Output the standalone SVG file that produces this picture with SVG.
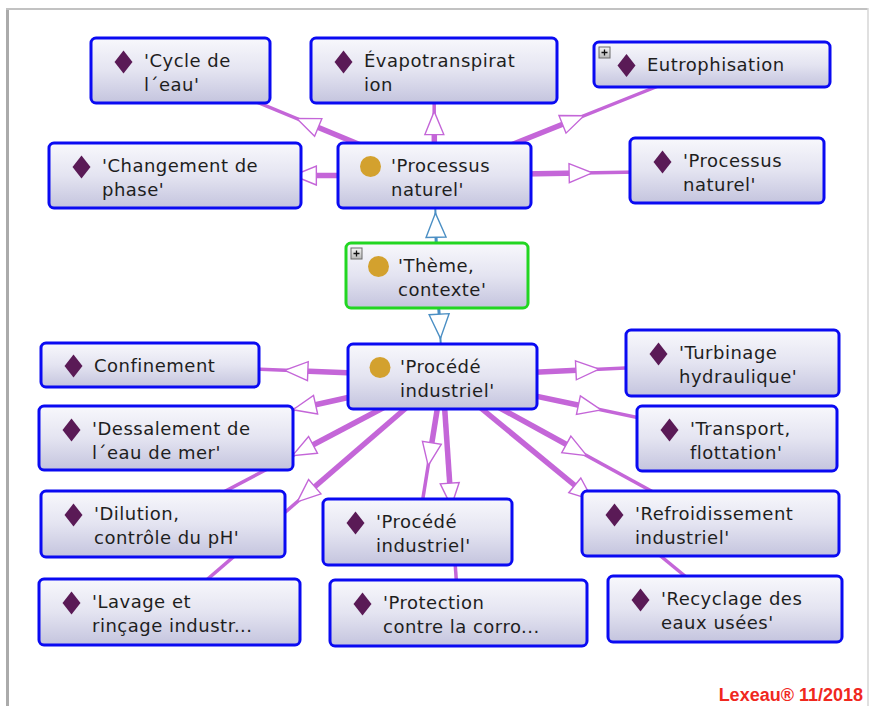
<svg xmlns="http://www.w3.org/2000/svg" width="870" height="706" viewBox="0 0 870 706">
<defs>
<linearGradient id="g" x1="0" y1="0" x2="0" y2="1">
<stop offset="0" stop-color="#f8f8fc"/>
<stop offset="0.5" stop-color="#e4e4f1"/>
<stop offset="1" stop-color="#c4c4de"/>
</linearGradient>
<linearGradient id="pg" x1="0" y1="0" x2="0" y2="1">
<stop offset="0" stop-color="#f4f4f4"/>
<stop offset="1" stop-color="#b8b8b8"/>
</linearGradient>
<marker id="ap" markerUnits="userSpaceOnUse" markerWidth="30" markerHeight="26" refX="12.4" refY="10.5" orient="auto" overflow="visible">
<path d="M0.8,1 L24,10.5 L0.8,20 Z" fill="#fff" stroke="#c466d8" stroke-width="1.4" stroke-linejoin="miter"/>
</marker>
<marker id="ab" markerUnits="userSpaceOnUse" markerWidth="30" markerHeight="26" refX="12.6" refY="10.5" orient="auto" overflow="visible">
<path d="M0.8,0.5 L25,10.5 L0.8,20.5 Z" fill="#fff" stroke="#4b8fc4" stroke-width="1.4"/>
</marker>
<path id="dia" d="M0,-11.5 L9,0 L0,11.5 L-9,0 Z" fill="#5a1a56"/>
<g id="plus">
<rect x="0" y="0" width="11" height="11" fill="url(#pg)" stroke="#6a6a6a" stroke-width="1"/>
<path d="M2.5,5.5 H8.5 M5.5,2.5 V8.5" stroke="#111" stroke-width="1.3"/>
</g>
</defs>
<style>
.n rect.b{fill:url(#g);stroke:#0a0af2;stroke-width:3}
.n rect.gr{fill:url(#g);stroke:#22d622;stroke-width:3}
.t{font-family:"DejaVu Sans",Verdana,sans-serif;font-size:18px;letter-spacing:0.5px;fill:#1e1e1e}
.c{fill:#d3a12e}
.e1{stroke:#c466d8;stroke-width:3.5;fill:none}
.e2{stroke:#c466d8;stroke-width:5.5;fill:none;marker-end:url(#ap)}
.b1{stroke:#4b8fc4;stroke-width:2;fill:none}
.b2{stroke:#4b8fc4;stroke-width:3;fill:none;marker-end:url(#ab)}
</style>
<rect x="0" y="0" width="870" height="706" fill="#fff"/>
<path d="M7.5,706 V9" stroke="#ababab" stroke-width="3"/>
<path d="M6,9 H868" stroke="#c2c2c2" stroke-width="2"/>
<path d="M868,8 V706" stroke="#d6d6d6" stroke-width="1.5"/>

<g id="connectors">
<path class="e1" d="M434.5,175.5 L180.5,70.5"/>
<path class="e2" d="M434.5,175.5 L307.5,123"/>
<path class="e1" d="M434.5,175.5 L434,70.5"/>
<path class="e2" d="M434.5,175.5 L434.25,123"/>
<path class="e1" d="M434.5,175.5 L712,64.5"/>
<path class="e2" d="M434.5,175.5 L573.25,120"/>
<path class="e1" d="M434.5,175.5 L175,175.5"/>
<path class="e2" d="M434.5,175.5 L304.75,175.5"/>
<path class="e1" d="M434.5,175.5 L727,170.5"/>
<path class="e2" d="M434.5,175.5 L580.75,173"/>

<path class="b1" d="M437,275.5 L434.5,175.5"/>
<path class="b2" d="M437,275.5 L435.75,225.5"/>
<path class="b1" d="M437,275.5 L442.5,376.5"/>
<path class="b2" d="M437,275.5 L439.75,326"/>

<path class="e1" d="M442.5,376.5 L150,365"/>
<path class="e2" d="M442.5,376.5 L296.25,370.75"/>
<path class="e1" d="M442.5,376.5 L166,438"/>
<path class="e2" d="M442.5,376.5 L304.25,407.25"/>
<path class="e1" d="M442.5,376.5 L163,524"/>
<path class="e2" d="M442.5,376.5 L302.75,450.25"/>
<path class="e1" d="M442.5,376.5 L169.5,612"/>
<path class="e2" d="M442.5,376.5 L306,494.25"/>
<path class="e1" d="M442.5,376.5 L417.5,532"/>
<path class="e2" d="M442.5,376.5 L430,454.25"/>
<path class="e1" d="M442.5,376.5 L458.5,613"/>
<path class="e2" d="M442.5,376.5 L450.5,494.75"/>
<path class="e1" d="M442.5,376.5 L732.5,363"/>
<path class="e2" d="M442.5,376.5 L587.5,369.75"/>
<path class="e1" d="M442.5,376.5 L737,438.5"/>
<path class="e2" d="M442.5,376.5 L589.75,407.5"/>
<path class="e1" d="M442.5,376.5 L710.5,523.5"/>
<path class="e2" d="M442.5,376.5 L576.5,450"/>
<path class="e1" d="M442.5,376.5 L725,609"/>
<path class="e2" d="M442.5,376.5 L583.75,492.75"/>
</g>

<g id="n-cycle" class="n">
<rect class="b" x="91" y="38" width="179" height="65" rx="5"/>
<use href="#dia" x="123.5" y="62"/>
<text class="t" x="144" y="67">'Cycle de</text>
<text class="t" x="144" y="90.5">l´eau'</text>
</g>
<g id="n-evapo" class="n">
<rect class="b" x="311" y="38" width="246" height="65" rx="5"/>
<use href="#dia" x="343.5" y="62"/>
<text class="t" x="364" y="67">Évapotranspirat</text>
<text class="t" x="364" y="90.5">ion</text>
</g>
<g id="n-eutro" class="n">
<rect class="b" x="594" y="42" width="236" height="45" rx="5"/>
<use href="#plus" x="599" y="47"/>
<use href="#dia" x="626.5" y="65.5"/>
<text class="t" x="647" y="71">Eutrophisation</text>
</g>
<g id="n-chgt" class="n">
<rect class="b" x="49" y="143" width="252" height="65" rx="5"/>
<use href="#dia" x="81.5" y="167"/>
<text class="t" x="102" y="172">'Changement de</text>
<text class="t" x="102" y="195.5">phase'</text>
</g>
<g id="n-pn" class="n">
<rect class="b" x="338" y="143" width="193" height="65" rx="5"/>
<circle class="c" cx="370.5" cy="166.5" r="10.5"/>
<text class="t" x="391" y="172">'Processus</text>
<text class="t" x="391" y="195.5">naturel'</text>
</g>
<g id="n-pn2" class="n">
<rect class="b" x="630" y="138" width="194" height="65" rx="5"/>
<use href="#dia" x="662.5" y="162"/>
<text class="t" x="683" y="167">'Processus</text>
<text class="t" x="683" y="190.5">naturel'</text>
</g>
<g id="n-theme" class="n">
<rect class="gr" x="346" y="243" width="182" height="65" rx="5"/>
<use href="#plus" x="351" y="248"/>
<circle class="c" cx="378.5" cy="266.5" r="10.5"/>
<text class="t" x="398" y="272">'Thème,</text>
<text class="t" x="398" y="295.5">contexte'</text>
</g>
<g id="n-pi" class="n">
<rect class="b" x="348" y="344" width="189" height="65" rx="5"/>
<circle class="c" cx="380" cy="367.5" r="10.5"/>
<text class="t" x="400" y="373">'Procédé</text>
<text class="t" x="400" y="396.5">industriel'</text>
</g>
<g id="n-conf" class="n">
<rect class="b" x="41" y="343" width="218" height="44" rx="5"/>
<use href="#dia" x="73.5" y="366"/>
<text class="t" x="94" y="371.5">Confinement</text>
</g>
<g id="n-dessal" class="n">
<rect class="b" x="39" y="406" width="254" height="64" rx="5"/>
<use href="#dia" x="71.5" y="430"/>
<text class="t" x="92" y="435">'Dessalement de</text>
<text class="t" x="92" y="458.5">l´eau de mer'</text>
</g>
<g id="n-turb" class="n">
<rect class="b" x="626" y="330" width="213" height="66" rx="5"/>
<use href="#dia" x="658.5" y="354"/>
<text class="t" x="679" y="359">'Turbinage</text>
<text class="t" x="679" y="382.5">hydraulique'</text>
</g>
<g id="n-transp" class="n">
<rect class="b" x="637" y="406" width="200" height="65" rx="5"/>
<use href="#dia" x="669.5" y="430"/>
<text class="t" x="690" y="435">'Transport,</text>
<text class="t" x="690" y="458.5">flottation'</text>
</g>
<g id="n-dilu" class="n">
<rect class="b" x="41" y="491" width="244" height="66" rx="5"/>
<use href="#dia" x="73.5" y="515"/>
<text class="t" x="94" y="520">'Dilution,</text>
<text class="t" x="94" y="543.5">contrôle du pH'</text>
</g>
<g id="n-pi2" class="n">
<rect class="b" x="323" y="499" width="189" height="66" rx="5"/>
<use href="#dia" x="355.5" y="523"/>
<text class="t" x="376" y="528">'Procédé</text>
<text class="t" x="376" y="551.5">industriel'</text>
</g>
<g id="n-refr" class="n">
<rect class="b" x="582" y="491" width="257" height="65" rx="5"/>
<use href="#dia" x="614.5" y="515"/>
<text class="t" x="635" y="520">'Refroidissement</text>
<text class="t" x="635" y="543.5">industriel'</text>
</g>
<g id="n-lavage" class="n">
<rect class="b" x="39" y="579" width="261" height="66" rx="5"/>
<use href="#dia" x="71.5" y="603"/>
<text class="t" x="92" y="608">'Lavage et</text>
<text class="t" x="92" y="631.5">rinçage industr...</text>
</g>
<g id="n-protec" class="n">
<rect class="b" x="330" y="580" width="257" height="66" rx="5"/>
<use href="#dia" x="362.5" y="604"/>
<text class="t" x="383" y="609">'Protection</text>
<text class="t" x="383" y="632.5">contre la corro...</text>
</g>
<g id="n-recyc" class="n">
<rect class="b" x="608" y="576" width="234" height="66" rx="5"/>
<use href="#dia" x="640.5" y="600"/>
<text class="t" x="661" y="605">'Recyclage des</text>
<text class="t" x="661" y="628.5">eaux usées'</text>
</g>

<text x="863" y="701" text-anchor="end" font-family="'Liberation Sans',Arial,sans-serif" font-weight="bold" font-size="18" fill="#f0281e">Lexeau® 11/2018</text>
</svg>
